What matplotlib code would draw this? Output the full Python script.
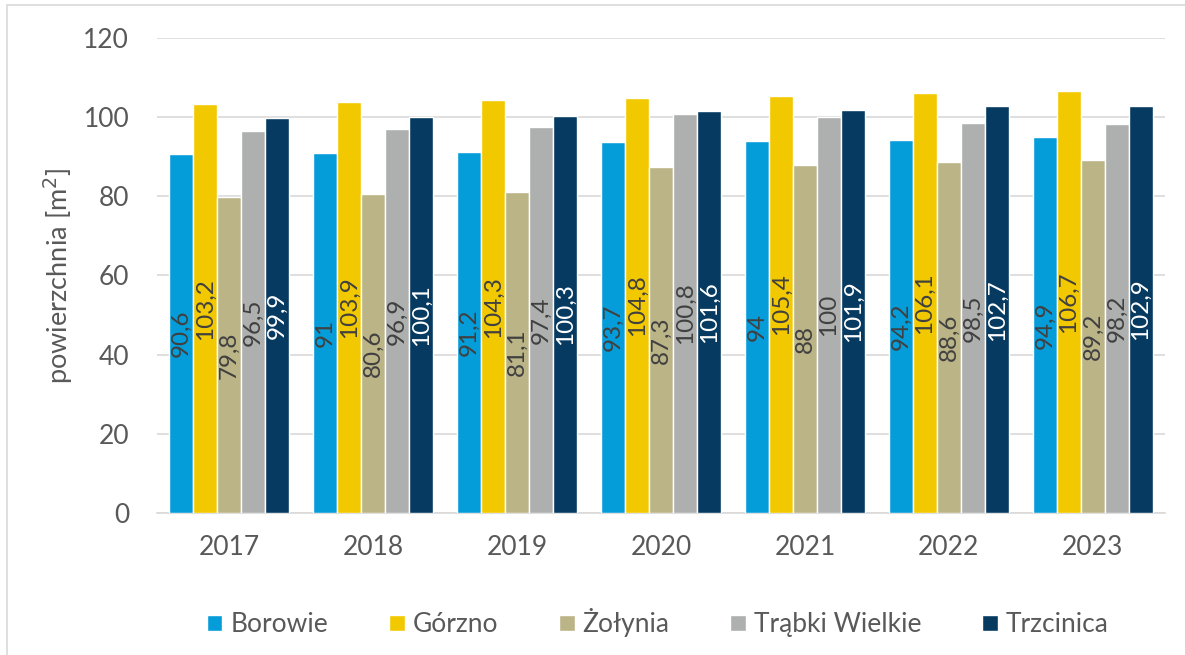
import numpy as np
import matplotlib
matplotlib.use("Agg")
import matplotlib.pyplot as plt
from matplotlib.patches import Rectangle

plt.rcParams['font.family'] = ['Lato', 'DejaVu Sans']

years = ['2017', '2018', '2019', '2020', '2021', '2022', '2023']
series_names = ['Borowie', 'Górzno', 'Żołynia', 'Trąbki Wielkie', 'Trzcinica']
borowie = [90.6, 91, 91.2, 93.7, 94, 94.2, 94.9]
gorzno = [103.2, 103.9, 104.3, 104.8, 105.4, 106.1, 106.7]
zolynia = [79.8, 80.6, 81.1, 87.3, 88, 88.6, 89.2]
trabki = [96.5, 96.9, 97.4, 100.8, 100, 98.5, 98.2]
trzcinica = [99.9, 100.1, 100.3, 101.6, 101.9, 102.7, 102.9]

colors = ['#049DD9', '#F2C900', '#BBB487', '#AEB0B0', '#063A61']
label_colors = ['#404040', '#404040', '#404040', '#404040', '#FFFFFF']
text_gray = '#595959'


def fmt(v):
    # Polish decimal comma, drop ".0"
    if float(v).is_integer():
        return str(int(v))
    return f"{v:.1f}".replace('.', ',')


fig = plt.figure(figsize=(11.85, 6.55), dpi=100)
ax = fig.add_axes([0.1325, 0.2168, 0.8505, 0.7252])

x = np.arange(len(years))
width = 0.1667
all_series = [borowie, gorzno, zolynia, trabki, trzcinica]

for i, (name, vals) in enumerate(zip(series_names, all_series)):
    pos = x + (i - 2) * width
    bars = ax.bar(pos, vals, width, color=colors[i], edgecolor='white',
                  linewidth=1, label=name, zorder=3)
    for b, v in zip(bars, vals):
        ax.text(b.get_x() + b.get_width() / 2, v / 2, fmt(v), rotation=90,
                ha='center', va='center', fontsize=17.5,
                color=label_colors[i], zorder=4)

ax.set_xlim(-0.5, len(years) - 0.5)
ax.set_ylim(0, 120)
ax.set_yticks(range(0, 121, 20))
ax.set_xticks(x)
ax.set_xticklabels(years)
ax.yaxis.grid(True, color='#D9D9D9', linewidth=1.2, zorder=0)
ax.tick_params(axis='both', length=0, labelsize=19, colors=text_gray)
ax.tick_params(axis='y', pad=20)
ax.tick_params(axis='x', pad=16)
for side in ['top', 'right', 'left']:
    ax.spines[side].set_visible(False)
ax.spines['bottom'].set_color('#D9D9D9')
ax.spines['bottom'].set_linewidth(1.2)

ax.set_ylabel('powierzchnia [m$^2$]', fontsize=19.5, color=text_gray, labelpad=6)

fig.legend(loc='center', bbox_to_anchor=(0.555, 0.049), ncol=5, frameon=False,
           fontsize=19, labelcolor=text_gray, handlelength=0.6, handleheight=0.6,
           handletextpad=0.3, columnspacing=2.3)

# thin frame around the whole chart
fig.patches.append(Rectangle((0.006, -0.01), 1.1, 1.002, transform=fig.transFigure,
                             fill=False, edgecolor='#D9D9D9', linewidth=1.2))

fig.savefig('out.png', dpi=100)
